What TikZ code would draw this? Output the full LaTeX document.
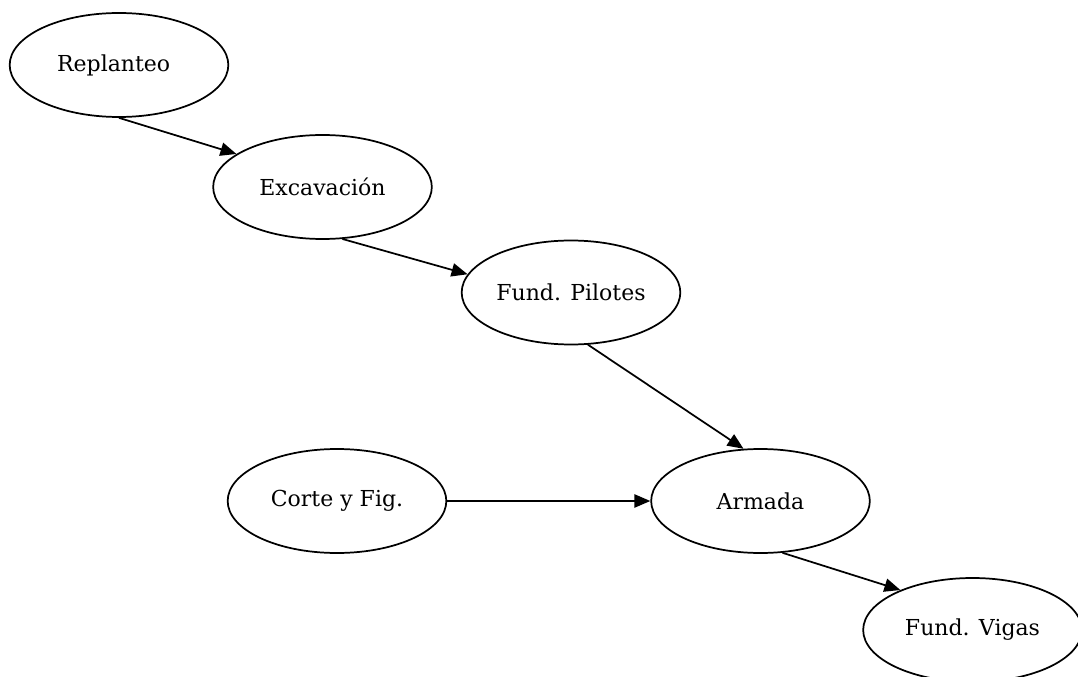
\documentclass[tikz,border=0pt]{standalone}
\usepackage{fontspec}
\setmainfont{DejaVu Serif}
\usetikzlibrary{shapes.geometric,arrows.meta}
\tikzstyle{activity}=[ellipse,draw,line width=1.3pt,minimum width=164pt,minimum height=78pt,inner sep=0pt,font=\fontsize{16.5}{19}\selectfont]
\tikzstyle{flow}=[line width=1.3pt,-{Triangle[length=12pt,width=10pt]}]

\begin{document}
\begin{tikzpicture}[x=0.75pt,y=-0.75pt]
	\useasboundingbox (0,0) rectangle (1078,677);
	\clip (0,0) rectangle (1078,677);
	\node[activity] (rep) at (119,65) {\hspace*{-8pt}Replanteo};
	\node[activity] (exc) at (322.5,187) {Excavación};
	\node[activity] (pil) at (571,292.5) {Fund. Pilotes};
	\node[activity] (cor) at (337,501) {Corte y Fig.};
	\node[activity] (arm) at (760.5,501) {Armada};
	\node[activity] (vig) at (972.5,630) {Fund. Vigas};
	% precedencias
	\draw[flow] (rep.south) -- (exc.159);
	\draw[flow] (exc.-69) -- (pil.170);
	\draw[flow] (pil.-72) -- (arm.108);
	\draw[flow] (cor.east) -- (arm.west);
	\draw[flow] (arm.-67.5) -- (vig.151);
\end{tikzpicture}
\end{document}
